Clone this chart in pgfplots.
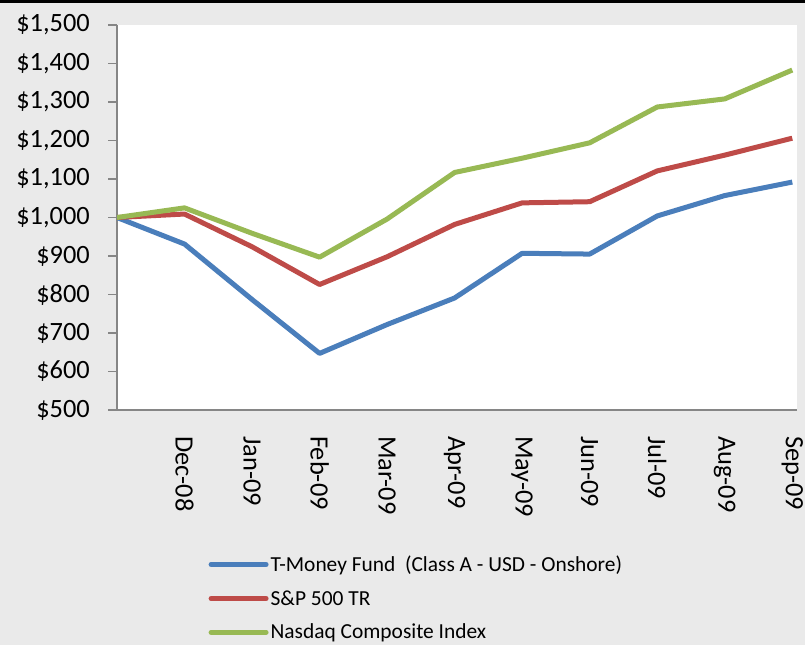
\documentclass[border=0pt]{standalone}
\usepackage{fontspec}
\setmainfont{Carlito}
\usepackage{pgfplots}
\pgfplotsset{compat=1.18}
\definecolor{bg}{HTML}{EAEAEA}
\definecolor{axgray}{HTML}{868686}
\definecolor{fundblue}{HTML}{4A7EBB}
\definecolor{spred}{HTML}{BE4B48}
\definecolor{nasgreen}{HTML}{98B954}

\begin{document}
\begin{tikzpicture}
\fill[bg] (0bp,0bp) rectangle (805bp,645bp);
\fill[black] (0bp,642bp) rectangle (805bp,645bp);
\begin{axis}[
    at={(117bp,235bp)}, anchor=south west,
    scale only axis, width=680bp, height=385bp,
    xmin=0, xmax=10.07, ymin=500, ymax=1500,
    axis x line=bottom, axis y line=left,
    axis line style={-, draw=axgray, line width=1.5bp},
    axis background/.style={fill=white},
    tick align=outside,
    major tick length=9bp,
    ytick={500,600,...,1500},
    yticklabels={\$500,\$600,\$700,\$800,\$900,{\$1,000},{\$1,100},{\$1,200},{\$1,300},{\$1,400},{\$1,500}},
    y tick style={draw=axgray, line width=1.5bp},
    y tick label style={font=\fontsize{26.5}{32}\selectfont, inner sep=0pt},
    yticklabel shift=18bp,
    xtick={1,...,10},
    xticklabels={Dec-08,Jan-09,Feb-09,Mar-09,Apr-09,May-09,Jun-09,Jul-09,Aug-09,Sep-09},
    x tick style={draw=none},
    x tick label style={font=\fontsize{26.5}{32}\selectfont, rotate=-90, anchor=west, inner sep=0pt},
    xticklabel shift=17bp,
    legend style={at={(axis description cs:0.13,-0.368)}, anchor=north west,
        draw=none, fill=none, font=\fontsize{21.5}{25}\selectfont, row sep=13.5bp},
    legend cell align=left,
    legend image code/.code={\draw[#1, line width=5bp, line cap=round] (0bp,0bp) -- (55bp,0bp);},
    every axis plot/.append style={line width=5bp, line join=round, mark=none},
]
\addplot[fundblue] coordinates {
    (0,1000) (1,931) (2,787) (3,647) (4,722) (5,791) (6,907) (7,905) (8,1004) (9,1057) (10,1092)
};
\addlegendentry{T-Money Fund\ \ (Class A - USD - Onshore)}
\addplot[spred] coordinates {
    (0,1000) (1,1009) (2,924) (3,826) (4,898) (5,982) (6,1038) (7,1041) (8,1121) (9,1162) (10,1206)
};
\addlegendentry{S\&P 500 TR}
\addplot[nasgreen] coordinates {
    (0,1000) (1,1025) (2,959) (3,897) (4,996) (5,1117) (6,1154) (7,1194) (8,1287) (9,1308) (10,1383)
};
\addlegendentry{Nasdaq Composite Index}
\end{axis}
\pgfresetboundingbox
\path[use as bounding box] (0bp,0bp) rectangle (805bp,645bp);
\end{tikzpicture}
\end{document}
